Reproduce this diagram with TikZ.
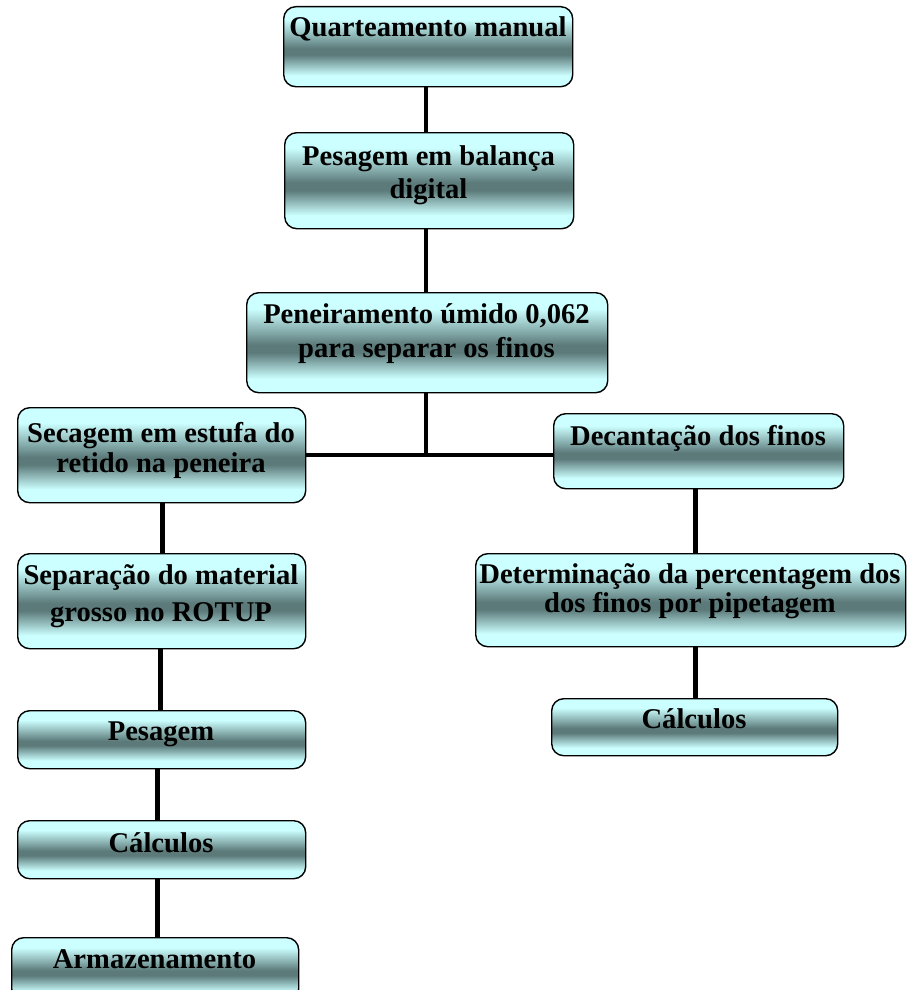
\documentclass[tikz,border=0pt]{standalone}
\usepackage{fontspec}
\setmainfont{Liberation Serif}
\definecolor{lc}{RGB}{204,255,255}
\definecolor{dk}{RGB}{92,122,122}
\pgfdeclareverticalshading{boxshade}{100bp}{color(0bp)=(lc); color(32bp)=(lc); color(45bp)=(dk); color(49bp)=(dk); color(67bp)=(lc); color(100bp)=(lc)}
\tikzset{
  box/.style={draw=black, line width=1.4pt, rounded corners=12pt, shading=boxshade, anchor=north west, inner sep=0pt},
  txt/.style={anchor=base, align=center, inner sep=0pt, text=black},
  conn/.style={line width=4.5pt, black}
}
\begin{document}
\begin{tikzpicture}[x=1pt,y=-1pt]
\useasboundingbox (0,0) rectangle (906,990);
% boxes
\node[box, minimum width=289pt, minimum height=80pt] (q) at (283,6) {};
\node[box, minimum width=289pt, minimum height=96pt] (pb) at (284,132) {};
\node[box, minimum width=361pt, minimum height=100pt] (pen) at (246,292) {};
\node[box, minimum width=288pt, minimum height=95pt] (sec) at (17,407) {};
\node[box, minimum width=290pt, minimum height=75pt] (dec) at (553,413) {};
\node[box, minimum width=288pt, minimum height=95pt] (sep) at (17,553) {};
\node[box, minimum width=430pt, minimum height=93pt] (det) at (475,553) {};
\node[box, minimum width=286pt, minimum height=57pt] (calr) at (551,698) {};
\node[box, minimum width=288pt, minimum height=58pt] (pes) at (17,710) {};
\node[box, minimum width=288pt, minimum height=58pt] (call) at (17,820) {};
\node[box, minimum width=287pt, minimum height=63pt] (arm) at (11,937) {};
% texts (anchor = baseline of the last line)
\node[txt, font=\bfseries\fontsize{28.6}{33}\selectfont] (qt) at (428,37) {Quarteamento manual};
\node[txt, font=\bfseries\fontsize{28.6}{33}\selectfont] (pbt) at (428.5,198) {Pesagem em balança\\digital};
\node[txt, font=\bfseries\fontsize{28.6}{34}\selectfont] (pent) at (426.5,357) {Peneiramento úmido 0,062\\para separar os finos};
\node[txt, font=\bfseries\fontsize{28.6}{30}\selectfont] (sect) at (161,472) {Secagem em estufa do\\retido na peneira};
\node[txt, font=\bfseries\fontsize{28.6}{33}\selectfont] (dect) at (698,445) {Decantação dos finos};
\node[txt, font=\bfseries\fontsize{28.6}{37}\selectfont] (sept) at (161,621) {Separação do material\\grosso no ROTUP};
\node[txt, font=\bfseries\fontsize{28.6}{29}\selectfont] (dett) at (690,612) {Determinação da percentagem dos\\dos finos por pipetagem};
\node[txt, font=\bfseries\fontsize{28.6}{33}\selectfont] (calrt) at (694,728) {Cálculos};
\node[txt, font=\bfseries\fontsize{28.6}{33}\selectfont] (pest) at (161,740) {Pesagem};
\node[txt, font=\bfseries\fontsize{28.6}{33}\selectfont] (callt) at (161,852) {Cálculos};
\node[txt, font=\bfseries\fontsize{28.6}{33}\selectfont] (armt) at (154.5,968) {Armazenamento};
% connectors
\coordinate (j) at (426,455);
\draw[conn] (q.south -| j) -- (pb.north -| j);
\draw[conn] (pb.south -| j) -- (pen.north -| j);
\draw[conn] (pen.south -| j) -- (j);
\draw[conn] (sec.east |- j) -- (dec.west |- j);
\draw[conn] ([xshift=1pt]sec.south) -- ([xshift=1pt]sep.north);
\draw[conn] ([xshift=-1pt]sep.south) -- ([xshift=-1pt]pes.north);
\draw[conn] ([xshift=-4pt]pes.south) -- ([xshift=-4pt]call.north);
\draw[conn] ([xshift=-4pt]call.south) -- ([xshift=-4pt]call.south |- arm.north);
\draw[conn] ([xshift=-3pt]dec.south) -- ([xshift=-3pt]dec.south |- det.north);
\draw[conn] ([xshift=1pt]calr.north |- det.south) -- ([xshift=1pt]calr.north);
\end{tikzpicture}
\end{document}
